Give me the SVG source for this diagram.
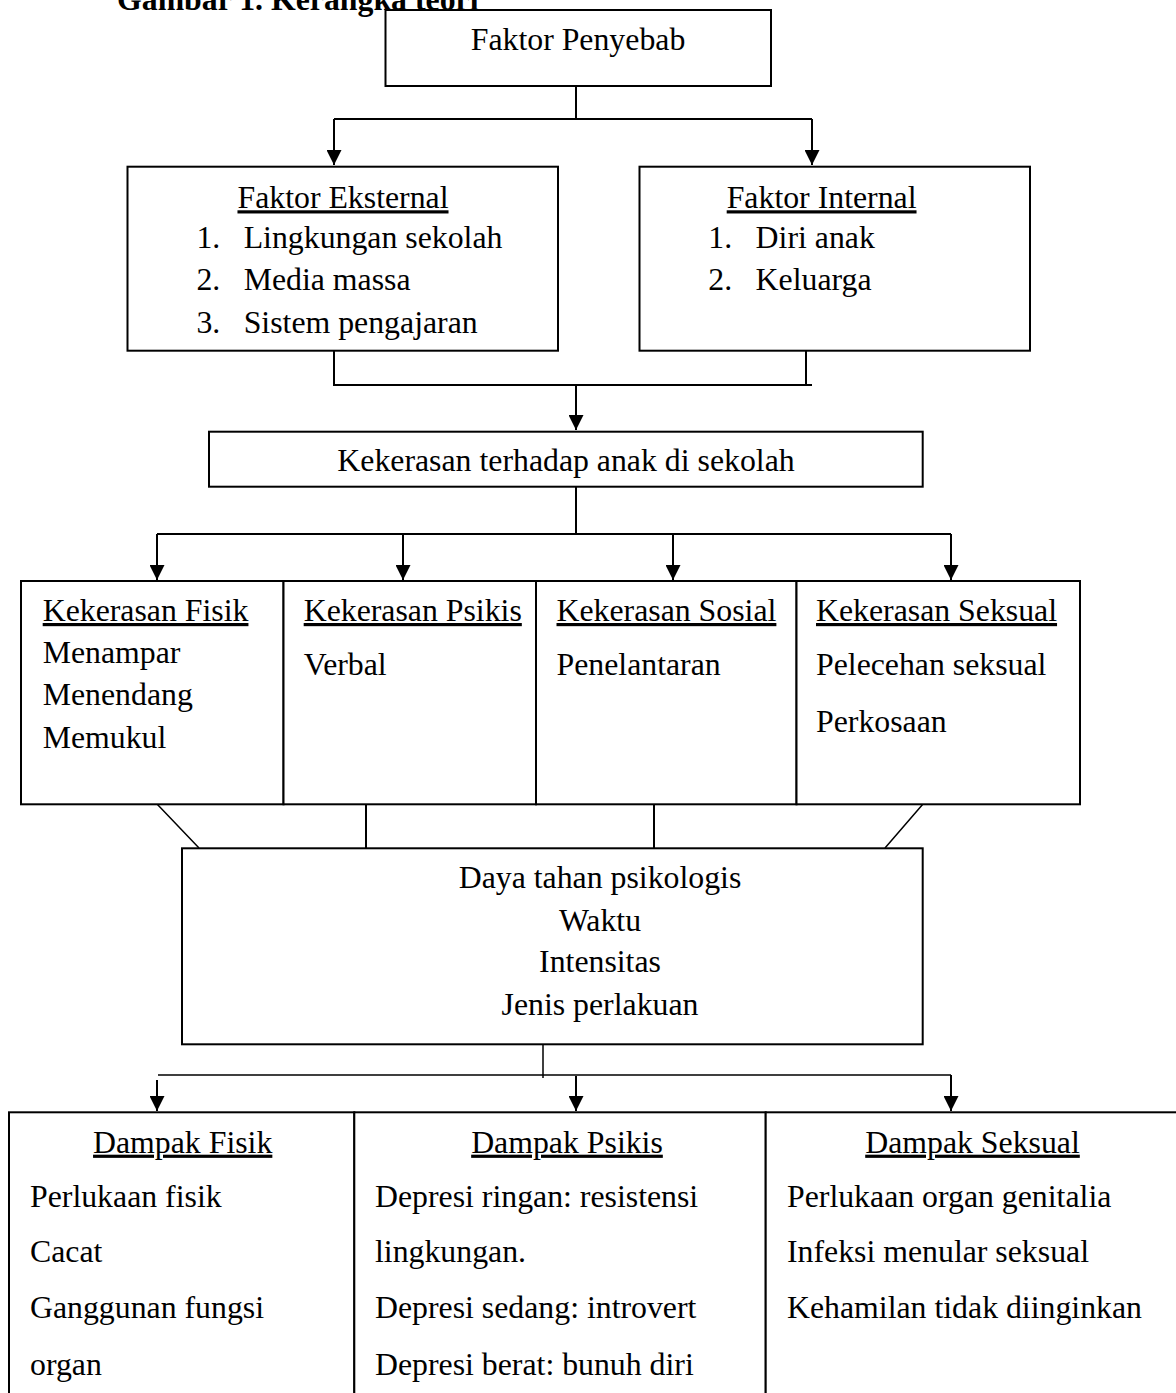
<svg xmlns="http://www.w3.org/2000/svg" width="1176" height="1393" viewBox="0 0 1176 1393">
<style>
text{font-family:"Liberation Serif","Times New Roman",serif;font-size:31.8px;fill:#000}
.t{font-weight:bold}
.c{text-anchor:middle}
.u{text-decoration:underline}
.box{fill:#fff;stroke:#000;stroke-width:2}
.ln{fill:none;stroke:#000;stroke-width:2}
.thin{fill:none;stroke:#000;stroke-width:1.5}
</style>
<defs>
<marker id="ah" markerUnits="userSpaceOnUse" markerWidth="15" markerHeight="15" refX="15" refY="7.5" orient="auto" viewBox="0 0 15 15">
<path d="M0,0 L15,7.5 L0,15 z" fill="#000"/>
</marker>
</defs>
<rect width="1176" height="1393" fill="#fff"/>
<text class="t" x="117" y="10">Gambar 1. Kerangka teori</text>

<g id="connectors">
<path class="ln" d="M576,86 V119 M334,119 H812"/>
<path class="ln" d="M334,119 V165" marker-end="url(#ah)"/>
<path class="ln" d="M812,119 V165" marker-end="url(#ah)"/>
<path class="ln" d="M334,351 V385 H812 M806,351 V385"/>
<path class="ln" d="M576,385 V430" marker-end="url(#ah)"/>
<path class="ln" d="M576,487 V534 M157,534 H951"/>
<path class="ln" d="M157,534 V580" marker-end="url(#ah)"/>
<path class="ln" d="M403,534 V580" marker-end="url(#ah)"/>
<path class="ln" d="M673,534 V580" marker-end="url(#ah)"/>
<path class="ln" d="M951,534 V580" marker-end="url(#ah)"/>
<path class="thin" d="M157,804 L199,848 M885,848 L923,804"/>
<path class="ln" d="M366,804 V848 M654,804 V848"/>
<path class="thin" d="M543,1044 V1078 M158,1075 H951"/>
<path class="ln" d="M157,1080 V1111" marker-end="url(#ah)"/>
<path class="ln" d="M576,1076 V1111" marker-end="url(#ah)"/>
<path class="ln" d="M951,1075 V1111" marker-end="url(#ah)"/>
</g>

<g id="faktor-penyebab">
<rect class="box" x="385.5" y="10" width="385.5" height="76"/>
<text class="c" x="578" y="50">Faktor Penyebab</text>
</g>

<g id="faktor-eksternal">
<rect class="box" x="127.5" y="166.7" width="430.5" height="184"/>
<text class="c u" x="343" y="208.3">Faktor Eksternal</text>
<text x="196.4" y="248.3">1.</text><text x="243.7" y="248.3">Lingkungan sekolah</text>
<text x="196.4" y="290">2.</text><text x="243.7" y="290">Media massa</text>
<text x="196.4" y="332.7">3.</text><text x="243.7" y="332.7">Sistem pengajaran</text>
</g>

<g id="faktor-internal">
<rect class="box" x="639.5" y="166.7" width="390.5" height="184"/>
<text class="u" x="726.7" y="208.3">Faktor Internal</text>
<text x="708.3" y="248.3">1.</text><text x="755.6" y="248.3">Diri anak</text>
<text x="708.3" y="290">2.</text><text x="755.6" y="290">Keluarga</text>
</g>

<g id="kekerasan">
<rect class="box" x="209" y="431.7" width="713.7" height="55"/>
<text class="c" x="566" y="470.7">Kekerasan terhadap anak di sekolah</text>
</g>

<g id="kekerasan-fisik">
<rect class="box" x="21" y="581" width="262.5" height="223.3"/>
<text class="u" x="42.7" y="621">Kekerasan Fisik</text>
<text x="42.7" y="663.3">Menampar</text>
<text x="42.7" y="705">Menendang</text>
<text x="42.7" y="748">Memukul</text>
</g>
<g id="kekerasan-psikis">
<rect class="box" x="283.5" y="581" width="252.5" height="223.3"/>
<text class="u" x="303.7" y="621">Kekerasan Psikis</text>
<text x="303.7" y="675">Verbal</text>
</g>
<g id="kekerasan-sosial">
<rect class="box" x="536" y="581" width="260.5" height="223.3"/>
<text class="u" x="556.5" y="621">Kekerasan Sosial</text>
<text x="556.5" y="675">Penelantaran</text>
</g>
<g id="kekerasan-seksual">
<rect class="box" x="796.5" y="581" width="283.5" height="223.3"/>
<text class="u" x="816" y="621">Kekerasan Seksual</text>
<text x="816" y="675">Pelecehan seksual</text>
<text x="816" y="731.7">Perkosaan</text>
</g>

<g id="daya-tahan">
<rect class="box" x="182" y="848.3" width="740.7" height="196"/>
<text class="c" x="600" y="888.3">Daya tahan psikologis</text>
<text class="c" x="600" y="930.7">Waktu</text>
<text class="c" x="600" y="972.3">Intensitas</text>
<text class="c" x="600" y="1015">Jenis perlakuan</text>
</g>

<g id="dampak-fisik">
<rect class="box" x="9" y="1112.3" width="345.3" height="300"/>
<text class="c u" x="182.7" y="1152.7">Dampak Fisik</text>
<text x="30" y="1207">Perlukaan fisik</text>
<text x="30" y="1262">Cacat</text>
<text x="30" y="1318">Ganggunan fungsi</text>
<text x="30" y="1375">organ</text>
</g>
<g id="dampak-psikis">
<rect class="box" x="354.3" y="1112.3" width="411.4" height="300"/>
<text class="c u" x="567" y="1152.7">Dampak Psikis</text>
<text x="375" y="1207">Depresi ringan: resistensi</text>
<text x="375" y="1262">lingkungan.</text>
<text x="375" y="1318">Depresi sedang: introvert</text>
<text x="375" y="1375">Depresi berat: bunuh diri</text>
</g>
<g id="dampak-seksual">
<rect class="box" x="765.7" y="1112.3" width="420" height="300"/>
<text class="c u" x="972.5" y="1152.7">Dampak Seksual</text>
<text x="787" y="1207">Perlukaan organ genitalia</text>
<text x="787" y="1262">Infeksi menular seksual</text>
<text x="787" y="1318">Kehamilan tidak diinginkan</text>
</g>
</svg>
